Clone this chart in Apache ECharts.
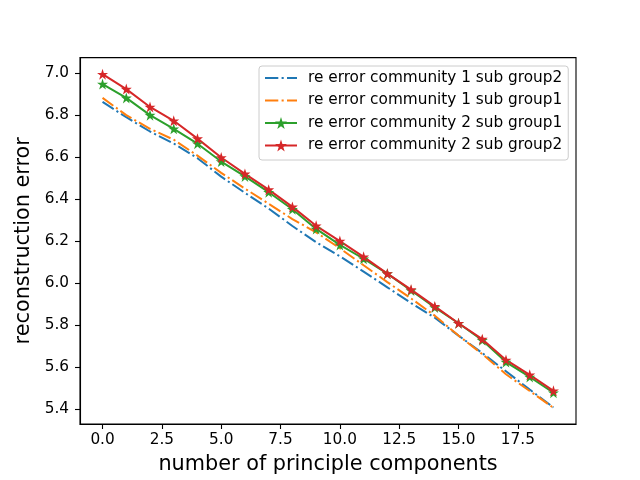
<!DOCTYPE html>
<html>
<head>
<meta charset="utf-8">
<script src="https://cdn.jsdelivr.net/npm/echarts@6/dist/echarts.min.js"></script>
<style>html,body{margin:0;padding:0;background:#fff}#c{width:640px;height:480px}</style>
</head>
<body>
<div id="c"></div>
<script>
var components = [0,1,2,3,4,5,6,7,8,9,10,11,12,13,14,15,16,17,18,19];
var c1g2 = [6.863,6.790,6.722,6.665,6.595,6.507,6.430,6.355,6.272,6.195,6.128,6.055,5.980,5.905,5.835,5.750,5.667,5.580,5.493,5.408];
var c1g1 = [6.882,6.800,6.735,6.683,6.607,6.525,6.450,6.378,6.305,6.242,6.166,6.085,6.005,5.927,5.845,5.750,5.662,5.566,5.486,5.406];
var c2g1 = [6.948,6.882,6.800,6.735,6.664,6.579,6.508,6.433,6.352,6.258,6.182,6.116,6.045,5.965,5.884,5.809,5.728,5.624,5.553,5.478];
var c2g2 = [6.995,6.924,6.839,6.773,6.688,6.598,6.520,6.445,6.363,6.273,6.200,6.125,6.045,5.969,5.889,5.809,5.733,5.634,5.563,5.487];
var seriesNames = ['re error community 1 sub group2','re error community 1 sub group1','re error community 2 sub group1','re error community 2 sub group2'];
var xTicks = [0,2.5,5,7.5,10,12.5,15,17.5];
var yTicks = [5.4,5.6,5.8,6.0,6.2,6.4,6.6,6.8,7.0];

var star = 'path://M50 0 L61.2 34.5 L97.6 34.5 L68.2 55.9 L79.4 90.5 L50 69.1 L20.6 90.5 L31.8 55.9 L2.4 34.5 L38.8 34.5 Z';
var dashIcon = 'path://M0 0 L0.01 0 L0 0.01 Z M32 15 L31.99 15 L32 14.99 Z M0 6.5 L13.3 6.5 L13.3 8.5 L0 8.5 Z M16.6 6.5 L18.7 6.5 L18.7 8.5 L16.6 8.5 Z M22 6.5 L32 6.5 L32 8.5 L22 8.5 Z';
function pairs(v){return components.map(function(x,i){return [x,v[i]];});}
var font = 'DejaVu Sans';
var dashdot = [13.3,3.3,2.1,3.3];

var chart = echarts.init(document.getElementById('c'), null, {renderer:'canvas'});
chart.setOption({
  animation:false,
  backgroundColor:'#fff',
  textStyle:{fontFamily:font},
  grid:{left:80,right:64,top:57.6,bottom:52.8,show:true,borderColor:'#000',borderWidth:1.1,backgroundColor:'transparent'},
  legend:{
    orient:'vertical', left:259, top:66,
    backgroundColor:'#fff', borderColor:'#cccccc', borderWidth:1, borderRadius:3,
    padding:[4.5,6,7,5], itemGap:7.5, itemWidth:32, itemHeight:15,
    textStyle:{fontFamily:font,fontSize:15.3,color:'#000',padding:[0,0,0,6]},
    data:[
      {name:seriesNames[0],icon:dashIcon},
      {name:seriesNames[1],icon:dashIcon},
      {name:seriesNames[2]},
      {name:seriesNames[3]}
    ]
  },
  xAxis:{
    type:'value', min:-0.95, max:19.95,
    name:'number of principle components', nameLocation:'middle', nameGap:30,
    nameTextStyle:{fontFamily:font,fontSize:20.8,color:'#000'},
    axisLine:{show:true,onZero:false,lineStyle:{color:'#000',width:1.1}},
    axisTick:{show:true,length:5,customValues:xTicks,lineStyle:{color:'#000',width:1.1}},
    axisLabel:{customValues:xTicks,margin:9,fontFamily:font,fontSize:15.3,color:'#000',formatter:function(v){return v.toFixed(1);}},
    splitLine:{show:false}
  },
  yAxis:{
    type:'value', min:5.329, max:7.074,
    name:'reconstruction error', nameLocation:'middle', nameGap:44, nameRotate:90,
    nameTextStyle:{fontFamily:font,fontSize:20.8,color:'#000'},
    axisLine:{show:true,onZero:false,lineStyle:{color:'#000',width:1.1}},
    axisTick:{show:true,length:5,customValues:yTicks,lineStyle:{color:'#000',width:1.1}},
    axisLabel:{customValues:yTicks,margin:11,fontFamily:font,fontSize:15.3,color:'#000',formatter:function(v){return v.toFixed(1);}},
    splitLine:{show:false}
  },
  series:[
    {name:seriesNames[0],type:'line',data:pairs(c1g2),symbol:'none',color:'#1f77b4',itemStyle:{color:'#1f77b4'},lineStyle:{width:2,type:dashdot,color:'#1f77b4'}},
    {name:seriesNames[1],type:'line',data:pairs(c1g1),symbol:'none',color:'#ff7f0e',itemStyle:{color:'#ff7f0e'},lineStyle:{width:2,type:dashdot,color:'#ff7f0e'}},
    {name:seriesNames[2],type:'line',data:pairs(c2g1),symbol:star,symbolSize:11,showAllSymbol:true,color:'#2ca02c',itemStyle:{color:'#2ca02c'},lineStyle:{width:2,color:'#2ca02c'}},
    {name:seriesNames[3],type:'line',data:pairs(c2g2),symbol:star,symbolSize:11,showAllSymbol:true,color:'#d62728',itemStyle:{color:'#d62728'},lineStyle:{width:2,color:'#d62728'}}
  ]
});
</script>
</body>
</html>
